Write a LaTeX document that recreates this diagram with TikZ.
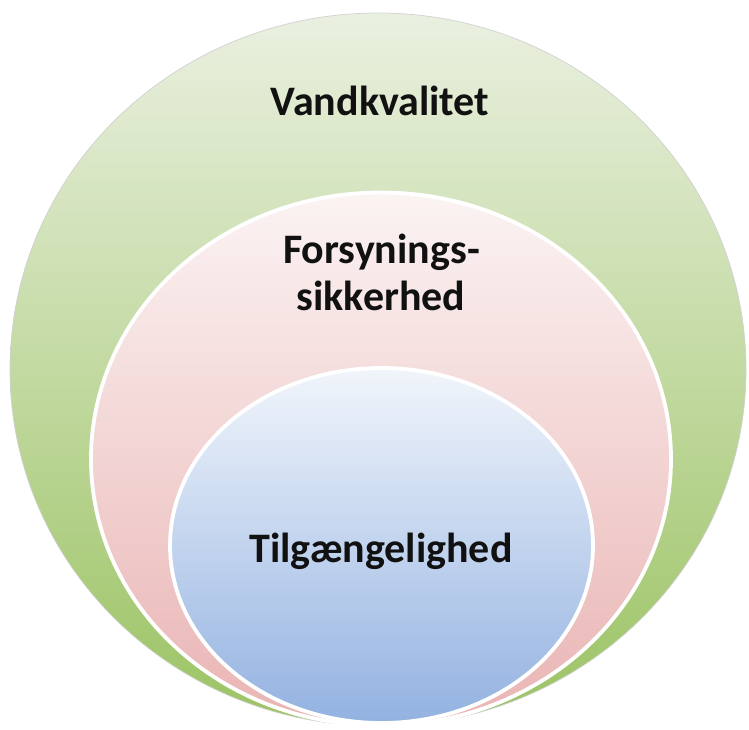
\documentclass[tikz,border=0pt]{standalone}
\usepackage{fontspec}
\setmainfont{Carlito}
\usetikzlibrary{shapes.geometric}
\definecolor{gtop}{HTML}{EAF0E0}
\definecolor{gmid}{HTML}{CFDFB1}
\definecolor{gbot}{HTML}{9BC363}
\definecolor{ptop}{HTML}{FBF3F3}
\definecolor{pmid}{HTML}{F2D8D8}
\definecolor{pbot}{HTML}{E9B4B3}
\definecolor{btop}{HTML}{F1F5FB}
\definecolor{bmid}{HTML}{C6D7EF}
\definecolor{bbot}{HTML}{93B2E1}
\definecolor{txt}{HTML}{111111}
\begin{document}
\begin{tikzpicture}[x=1pt,y=-1pt,
  ring/.style={ellipse, inner sep=0pt, outer sep=0pt},
  label/.style={font=\fontsize{42}{47}\selectfont\bfseries, text=txt, align=center, inner sep=0pt}]
\useasboundingbox (0,0) rectangle (749,729);
\node[ring, draw=black!18, line width=0.7pt, top color=gtop, middle color=gmid, bottom color=gbot,
  minimum width=736pt, minimum height=713pt] (outer) at (378,369.5) {};
\node[ring, draw=white, line width=3.8pt, top color=ptop, middle color=pmid, bottom color=pbot,
  minimum width=580pt, minimum height=533pt] (middle) at (381,459) {};
\node[ring, draw=white, line width=3.8pt, top color=btop, middle color=bmid, bottom color=bbot,
  minimum width=423pt, minimum height=355pt] (inner) at (381.5,545.5) {};
\node[label, anchor=base] (t1) at (380,115) {Vandkvalitet};
\node[label, anchor=base] (t2) at (381.5,263) {Forsynings-};
\node[label, anchor=base] (t2b) at (381,310) {sikkerhed};
\node[label, anchor=base] (t3) at (381,562) {Tilgængelighed};
\end{tikzpicture}
\end{document}
